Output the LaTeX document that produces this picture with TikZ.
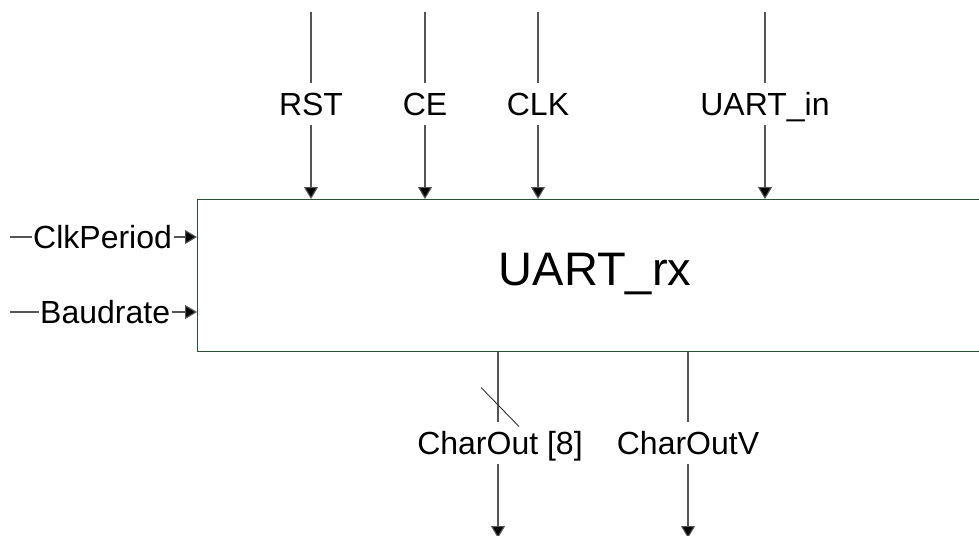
\documentclass[tikz,border=0pt]{standalone}
\usepackage{fontspec}
\setmainfont{Liberation Sans}
\usetikzlibrary{arrows.meta}
\definecolor{blockgreen}{RGB}{42,82,58}
\definecolor{wire}{RGB}{85,85,85}
\tikzset{
  wireline/.style={draw=wire, line width=1.1pt},
  sig/.style={wireline, -{Triangle[width=14pt,length=12pt,fill=black]}},
  vlabel/.style={font=\fontsize{32}{32}\selectfont, inner xsep=0pt, inner ysep=10pt, text height=22pt, text depth=0pt},
  hlabel/.style={font=\fontsize{32}{32}\selectfont, inner xsep=1.5pt, inner ysep=0pt},
  block/.style={draw=blockgreen, line width=1.3pt, anchor=north west, inner sep=0pt}
}
\begin{document}
\begin{tikzpicture}[x=1pt, y=-1pt]
  \clip (0,0) rectangle (979,535);
  \fill[white] (0,0) rectangle (979,535);

  % the receiver block; its right edge runs past the sheet
  \node[block, minimum width=820pt, minimum height=152pt] (rx) at (197,199) {};
  \node[font=\fontsize{47}{47}\selectfont, inner sep=0pt] (rxname) at (595,274) {UART\_rx};

  % inputs from above
  \coordinate (rstTop) at (311,12);
  \coordinate (ceTop)  at (425,12);
  \coordinate (clkTop) at (538,12);
  \coordinate (uinTop) at (765,12);
  \node[vlabel] (rst) at (311,104) {RST};
  \node[vlabel] (ce)  at (425,104) {CE};
  \node[vlabel] (clk) at (538,104) {CLK};
  \node[vlabel] (uin) at (765,104) {UART\_in};
  \foreach \s in {rst,ce,clk,uin}{
    \draw[wireline] (\s Top) -- (\s);
    \draw[sig] (\s) -- (\s |- rx.north);
  }

  % inputs from the left
  \coordinate (cpTop) at (10,237);
  \coordinate (brTop) at (10,312);
  \node[hlabel, anchor=west] (cp) at (31.5,237) {ClkPeriod};
  \node[hlabel, anchor=west] (br) at (38.5,312) {Baudrate};
  \draw[wireline] (cpTop) -- (cp);
  \draw[sig] (cp) -- (cp -| rx.west);
  \draw[wireline] (brTop) -- (br);
  \draw[sig] (br) -- (br -| rx.west);

  % outputs below
  \coordinate (coEnd)  at (498,538);
  \coordinate (covEnd) at (688,538);
  \node[vlabel] (co)  at (500,443) {CharOut [8]};
  \node[vlabel] (cov) at (688,443) {CharOutV};
  \draw[wireline] (rx.south -| coEnd) -- (coEnd |- co.north);
  \draw[sig] (coEnd |- co.south) -- (coEnd);
  \draw[wireline] (rx.south -| covEnd) -- (covEnd |- cov.north);
  \draw[sig] (covEnd |- cov.south) -- (covEnd);

  % bus width mark on CharOut
  \coordinate (bus) at (500,407);
  \draw[draw=black!80, line width=0.9pt] ([shift={(-19,-19.5)}]bus) -- ([shift={(19,19.5)}]bus);
\end{tikzpicture}
\end{document}
